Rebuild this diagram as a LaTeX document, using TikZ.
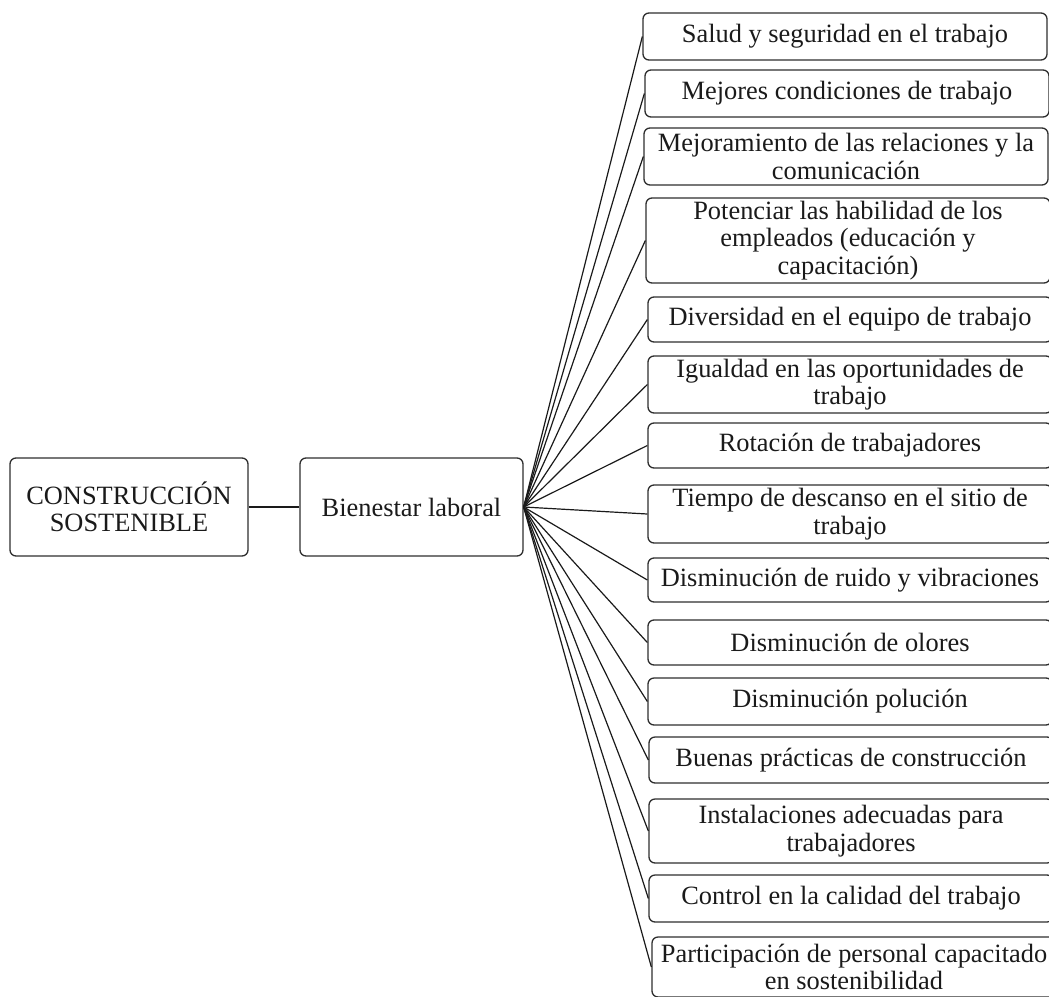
\documentclass[tikz,border=0pt]{standalone}
\usepackage{fontspec}
\setmainfont{Liberation Serif}
\usepackage{xcolor}
\usepackage{tikz}
\definecolor{tinta}{HTML}{1A1A1A}
\definecolor{borde}{HTML}{2E2E2E}
\newcommand\letra{\fontsize{26.4}{27.5}\selectfont}

\begin{document}
\begin{tikzpicture}[x=1pt,y=-1pt,
    caja/.style={draw=borde,line width=1.3pt,rounded corners=6pt,inner sep=0pt,
                 align=center,font=\letra\color{tinta}},
    rama/.style={caja,minimum width=404pt},
    enlace/.style={draw=tinta,line width=1.2pt}]
  \clip (0,0) rectangle (1049,996);

  \node[caja,minimum width=238pt,minimum height=98pt] (cons) at (129,507)
    {CONSTRUCCIÓN\\SOSTENIBLE};
  \node[caja,minimum width=223pt,minimum height=98pt] (bien) at (411.5,507)
    {Bienestar laboral};

  \node[rama,minimum height=47pt] (r1)  at (845,36.5)  {Salud y seguridad en el trabajo};
  \node[rama,minimum height=47pt] (r2)  at (847,93.5)  {Mejores condiciones de trabajo};
  \node[rama,minimum height=57pt] (r3)  at (846,156.5) {Mejoramiento de las relaciones y la\\comunicación};
  \node[rama,minimum height=85pt] (r4)  at (848,240.5) {Potenciar las habilidad de los\\empleados (educación y\\capacitación)};
  \node[rama,minimum height=45pt] (r5)  at (850,319.5) {Diversidad en el equipo de trabajo};
  \node[rama,minimum height=57pt] (r6)  at (850,384.5) {Igualdad en las oportunidades de\\trabajo};
  \node[rama,minimum height=45pt] (r7)  at (850,445.5) {Rotación de trabajadores};
  \node[rama,minimum height=58pt] (r8)  at (850,514)   {Tiempo de descanso en el sitio de\\trabajo};
  \node[rama,minimum height=44pt] (r9)  at (850,580)   {Disminución de ruido y vibraciones};
  \node[rama,minimum height=45pt] (r10) at (850,642.5) {Disminución de olores};
  \node[rama,minimum height=47pt] (r11) at (850,701.5) {Disminución polución};
  \node[rama,minimum height=46pt] (r12) at (851,760)   {Buenas prácticas de construcción};
  \node[rama,minimum height=64pt] (r13) at (851,831)   {Instalaciones adecuadas para\\trabajadores};
  \node[rama,minimum height=47pt] (r14) at (851,898.5) {Control en la calidad del trabajo};
  \node[rama,minimum height=60pt] (r15) at (854,967)   {Participación de personal capacitado\\en sostenibilidad};

  \draw[enlace] (cons) -- (bien);
  \foreach \i in {1,...,15}{
    \draw[enlace] (bien.east) -- (r\i.west);
  }
\end{tikzpicture}
\end{document}
